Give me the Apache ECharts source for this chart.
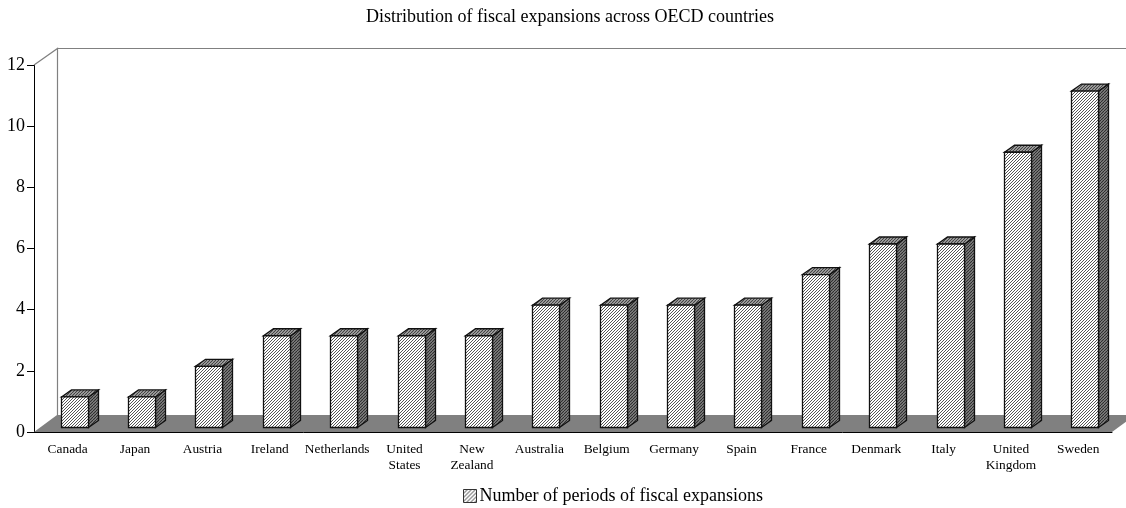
<!DOCTYPE html>
<html>
<head>
<meta charset="utf-8">
<style>html,body{margin:0;padding:0;background:#fff}#chart{width:1126px;height:508px}</style>
<script src="https://cdn.jsdelivr.net/npm/echarts@6/dist/echarts.min.js"></script>
</head>
<body>
<div id="chart"></div>
<script>
const categories = ['Canada','Japan','Austria','Ireland','Netherlands','United\nStates','New\nZealand','Australia','Belgium','Germany','Spain','France','Denmark','Italy','United\nKingdom','Sweden'];
const periods = [1,1,2,3,3,3,3,4,4,4,4,5,6,6,9,11];
const yTicks = [0,12,2];
const seriesName = 'Number of periods of fiscal expansions';
const serif = '"Liberation Serif","Times New Roman",serif';

// Diagonal hatch tile: dark strokes of the given width on a background colour.
function hatch(bg, ink, lineWidth, size) {
  const c = document.createElement('canvas');
  c.width = c.height = size;
  const g = c.getContext('2d');
  g.fillStyle = bg;
  g.fillRect(0, 0, size, size);
  g.strokeStyle = ink;
  g.lineWidth = lineWidth;
  for (let i = -size; i <= size * 2; i += size) {
    g.beginPath();
    g.moveTo(i, size);
    g.lineTo(i + size, 0);
    g.stroke();
  }
  return { image: c, repeat: 'repeat' };
}
const frontFill = hatch('#ffffff', '#555555', 1, 3);
const sideFill = hatch('#8c8c8c', '#2a2a2a', 1.1, 3);
const topFill = hatch('#b4b4b4', '#3c3c3c', 1.1, 3);
const legendFill = hatch('#ffffff', '#333333', 1, 4);

// Oblique depth of the plot box and of each column.
const boxDX = 23, boxDY = 17;
const barDX = 10, barDY = 7;
const barLift = 4.5, barShift = 7.5;
const barW = 27;

const chart = echarts.init(document.getElementById('chart'), null, { renderer: 'canvas' });

function renderBackdrop(params, api) {
  const r = params.coordSys;
  const L = r.x, R = r.x + r.width, B = r.y + r.height, T = r.y;
  const line = { stroke: '#808080', lineWidth: 1.2 };
  const wallX = L + boxDX + 0.5, wallY = T - boxDY + 0.5;
  return {
    type: 'group',
    silent: true,
    children: [
      { type: 'polygon', shape: { points: [[L, B], [L + boxDX, B - boxDY], [R + boxDX, B - boxDY], [R, B]] }, style: { fill: '#808080' } },
      { type: 'polyline', shape: { points: [[L, T], [wallX, wallY], [wallX, B - boxDY]] }, style: { ...line, fill: null } },
      { type: 'line', shape: { x1: wallX, y1: wallY, x2: 1126, y2: wallY }, style: line }
    ]
  };
}

function renderColumn(params, api) {
  const base = api.coord([api.value(0), 0]);
  const top = api.coord([api.value(0), api.value(1)]);
  const x0 = Math.round(base[0] - barW / 2 + barShift) - 0.5;
  const x1 = x0 + barW;
  const yB = base[1] - barLift;
  const yT = top[1] - barLift;
  const edge = { stroke: '#111111', lineWidth: 1.3, lineJoin: 'miter' };
  return {
    type: 'group',
    children: [
      { type: 'polygon', shape: { points: [[x1, yB], [x1 + barDX, yB - barDY], [x1 + barDX, yT - barDY], [x1, yT]] }, style: { fill: sideFill, ...edge } },
      { type: 'polygon', shape: { points: [[x0, yT], [x0 + barDX, yT - barDY], [x1 + barDX, yT - barDY], [x1, yT]] }, style: { fill: topFill, ...edge } },
      { type: 'rect', shape: { x: x0, y: yT, width: barW, height: yB - yT }, style: { fill: frontFill, ...edge } }
    ]
  };
}

chart.setOption({
  animation: false,
  backgroundColor: '#ffffff',
  title: {
    text: 'Distribution of fiscal expansions across OECD countries',
    left: 565, top: 3, textAlign: 'center',
    textStyle: { fontFamily: serif, fontSize: 18, fontWeight: 'normal', color: '#000' }
  },
  legend: {
    data: [{ name: seriesName, icon: 'rect', itemStyle: { color: legendFill, borderColor: '#333', borderWidth: 1 } }],
    left: 458, top: 482, itemWidth: 13, itemHeight: 13, itemGap: 0,
    textStyle: { fontFamily: serif, fontSize: 18, color: '#000', padding: [1, 0, 0, -2] }
  },
  grid: { left: 34, right: 14, top: 65, bottom: 76 },
  xAxis: {
    type: 'category',
    data: categories,
    axisLine: { lineStyle: { color: '#000', width: 1 } },
    axisTick: { alignWithLabel: false, length: 6, lineStyle: { color: '#333' } },
    axisLabel: { fontFamily: serif, fontSize: 13.4, color: '#000', margin: 9, lineHeight: 16, interval: 0 }
  },
  yAxis: {
    type: 'value',
    min: yTicks[0], max: yTicks[1], interval: yTicks[2],
    splitLine: { show: false },
    axisLine: { show: true, lineStyle: { color: '#000', width: 1 } },
    axisTick: { show: true, length: 7, lineStyle: { color: '#000' } },
    axisLabel: { fontFamily: serif, fontSize: 18, color: '#000', margin: 9 }
  },
  series: [
    { type: 'custom', name: 'backdrop', coordinateSystem: 'cartesian2d', renderItem: renderBackdrop, data: [[0, 0]], silent: true, z: 1 },
    {
      type: 'custom', name: seriesName, coordinateSystem: 'cartesian2d', renderItem: renderColumn, z: 3,
      encode: { x: 0, y: 1 },
      itemStyle: { color: legendFill },
      data: periods.map((v, i) => [i, v])
    }
  ]
});
</script>
</body>
</html>
